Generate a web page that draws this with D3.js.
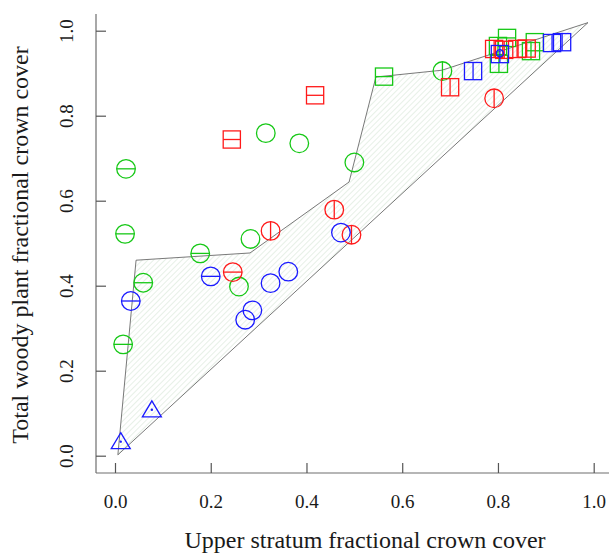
<!DOCTYPE html>
<html>
<head>
<meta charset="utf-8">
<script src="https://cdn.jsdelivr.net/npm/d3@7"></script>
<style>
  body { margin: 0; background: #fff; }
  svg text { font-family: "Liberation Serif", "DejaVu Serif", serif !important; fill: #1a1a1a; }
</style>
</head>
<body>
<div id="chart"></div>
<script>
// tick values
const xTicks = [0, 0.2, 0.4, 0.6, 0.8, 1.0];
const yTicks = [0, 0.2, 0.4, 0.6, 0.8, 1.0];

// shaded envelope (upper stratum vs total cover)
const envX = [0.006, 0.044, 0.282, 0.489, 0.545, 0.683, 0.988];
const envY = [0.002, 0.460, 0.477, 0.644, 0.891, 0.907, 1.019];

// points: x, y, shape, colour group, inner mark (h = horizontal bar, v = vertical bar, n = none, p = dot)
const ptX = [
  0.023, 0.021, 0.059, 0.017, 0.178, 0.283, 0.259, 0.315, 0.385, 0.500, 0.684,
  0.562, 0.819, 0.800, 0.802, 0.869, 0.877,
  0.246, 0.325, 0.458, 0.494, 0.792,
  0.244, 0.418, 0.700, 0.792, 0.813, 0.840, 0.860,
  0.033, 0.200, 0.272, 0.287, 0.325, 0.362, 0.472,
  0.012, 0.077,
  0.748, 0.804, 0.913, 0.934,
  0.804
];
const ptY = [
  0.675, 0.522, 0.407, 0.262, 0.476, 0.510, 0.398, 0.759, 0.735, 0.690, 0.905,
  0.892, 0.983, 0.964, 0.922, 0.952, 0.973,
  0.432, 0.529, 0.579, 0.520, 0.841,
  0.744, 0.848, 0.867, 0.957, 0.955, 0.957, 0.958,
  0.364, 0.422, 0.320, 0.342, 0.406, 0.433, 0.525,
  0.033, 0.108,
  0.905, 0.945, 0.971, 0.973,
  0.947
];
const ptShape = [
  "c","c","c","c","c","c","c","c","c","c","c",
  "s","s","s","s","s","s",
  "c","c","c","c","c",
  "s","s","s","s","s","s","s",
  "c","c","c","c","c","c","c",
  "t","t",
  "s","s","s","s",
  "o"
];
const ptGroup = [
  "g","g","g","g","g","g","g","g","g","g","g",
  "g","g","g","g","g","g",
  "r","r","r","r","r",
  "r","r","r","r","r","r","r",
  "b","b","b","b","b","b","b",
  "b","b",
  "b","b","b","b",
  "b"
];
const ptMark = [
  "h","h","h","h","h","n","n","n","n","n","v",
  "h","h","v","v","v","n",
  "h","v","v","v","v",
  "h","h","v","v","v","v","v",
  "h","h","n","n","n","n","n",
  "p","p",
  "v","v","v","v",
  "n"
];

const colours = { r: "#ff1a1a", g: "#16c816", b: "#1a1aff" };

const W = 609, H = 554;
const svg = d3.select("#chart").append("svg").attr("width", W).attr("height", H);

const x = d3.scaleLinear().domain([0, 1]).range([115, 593.7]);
const y = d3.scaleLinear().domain([0, 1]).range([455.7, 30.7]);

const axisX0 = 96, axisY0 = 473;

// hatch pattern
const defs = svg.append("defs");
defs.append("pattern")
    .attr("id", "hatch")
    .attr("patternUnits", "userSpaceOnUse")
    .attr("width", 4).attr("height", 4)
    .attr("patternTransform", "rotate(45)")
  .append("line")
    .attr("x1", 0).attr("y1", 0).attr("x2", 0).attr("y2", 4)
    .attr("stroke", "#cfe2cf").attr("stroke-width", 1);

const env = envX.map((d, i) => [x(d), y(envY[i])]);
svg.append("path")
    .attr("d", d3.line()(env) + "Z")
    .attr("fill", "url(#hatch)")
    .attr("stroke", "#6a6a6a")
    .attr("stroke-width", 0.9);

// axes
svg.append("line").attr("x1", axisX0).attr("x2", axisX0).attr("y1", 14).attr("y2", axisY0)
    .attr("stroke", "#6e6e6e").attr("stroke-width", 1.2);
svg.append("line").attr("x1", axisX0).attr("x2", W).attr("y1", axisY0).attr("y2", axisY0)
    .attr("stroke", "#6e6e6e").attr("stroke-width", 1.2);

const gx = svg.append("g").attr("transform", `translate(0,${axisY0})`)
    .call(d3.axisBottom(x).tickValues(xTicks).tickFormat(d3.format(".1f")).tickSize(-10).tickSizeOuter(0).tickPadding(22));
gx.select(".domain").remove();
gx.attr("font-size", null).attr("font-family", null);
gx.selectAll(".tick line").attr("stroke", "#555").attr("stroke-width", 1.2);
gx.selectAll(".tick text").attr("dy", "0.71em").style("font-size", "19px");

const gy = svg.append("g").attr("transform", `translate(${axisX0},0)`)
    .call(d3.axisLeft(y).tickValues(yTicks).tickFormat(d3.format(".1f")).tickSize(-10).tickSizeOuter(0));
gy.select(".domain").remove();
gy.attr("font-size", null).attr("font-family", null);
gy.selectAll(".tick line").attr("stroke", "#555").attr("stroke-width", 1.2);
gy.selectAll(".tick text")
    .attr("transform", "rotate(-90)")
    .attr("x", 0).attr("y", -23).attr("dy", 0)
    .attr("text-anchor", "middle")
    .style("font-size", "19px");

// titles
svg.append("text")
    .attr("x", 365).attr("y", 548)
    .attr("text-anchor", "middle")
    .style("font-size", "24px")
    .text("Upper stratum fractional crown cover");
svg.append("text")
    .attr("transform", "translate(28,245) rotate(-90)")
    .attr("text-anchor", "middle")
    .style("font-size", "24px")
    .text("Total woody plant fractional crown cover");

// points
const pts = ptX.map((d, i) => ({ x: d, y: ptY[i], shape: ptShape[i], group: ptGroup[i], mark: ptMark[i] }));
const R = 9.3, S = 8.6;

const g = svg.selectAll(".pt").data(pts).enter().append("g")
    .attr("class", "pt")
    .attr("transform", d => `translate(${x(d.x)},${y(d.y)})`)
    .attr("stroke", d => colours[d.group])
    .attr("fill", "none")
    .attr("stroke-width", 1.3);

g.filter(d => d.shape === "c").append("circle").attr("r", R);
g.filter(d => d.shape === "o").append("circle").attr("r", 3.6);
g.filter(d => d.shape === "s").append("rect")
    .attr("x", -S).attr("y", -S).attr("width", 2 * S).attr("height", 2 * S);
g.filter(d => d.shape === "t").append("path")
    .attr("d", "M0,-9L9.5,7L-9.5,7Z");

g.filter(d => d.mark === "h").append("line")
    .attr("x1", d => -(d.shape === "c" ? R : S)).attr("x2", d => (d.shape === "c" ? R : S))
    .attr("y1", 0).attr("y2", 0);
g.filter(d => d.mark === "v").append("line")
    .attr("y1", d => -(d.shape === "c" ? R : S)).attr("y2", d => (d.shape === "c" ? R : S))
    .attr("x1", 0).attr("x2", 0);
g.filter(d => d.mark === "p").append("circle")
    .attr("r", 1.2).attr("fill", d => colours[d.group]).attr("stroke", "none");
</script>
</body>
</html>
